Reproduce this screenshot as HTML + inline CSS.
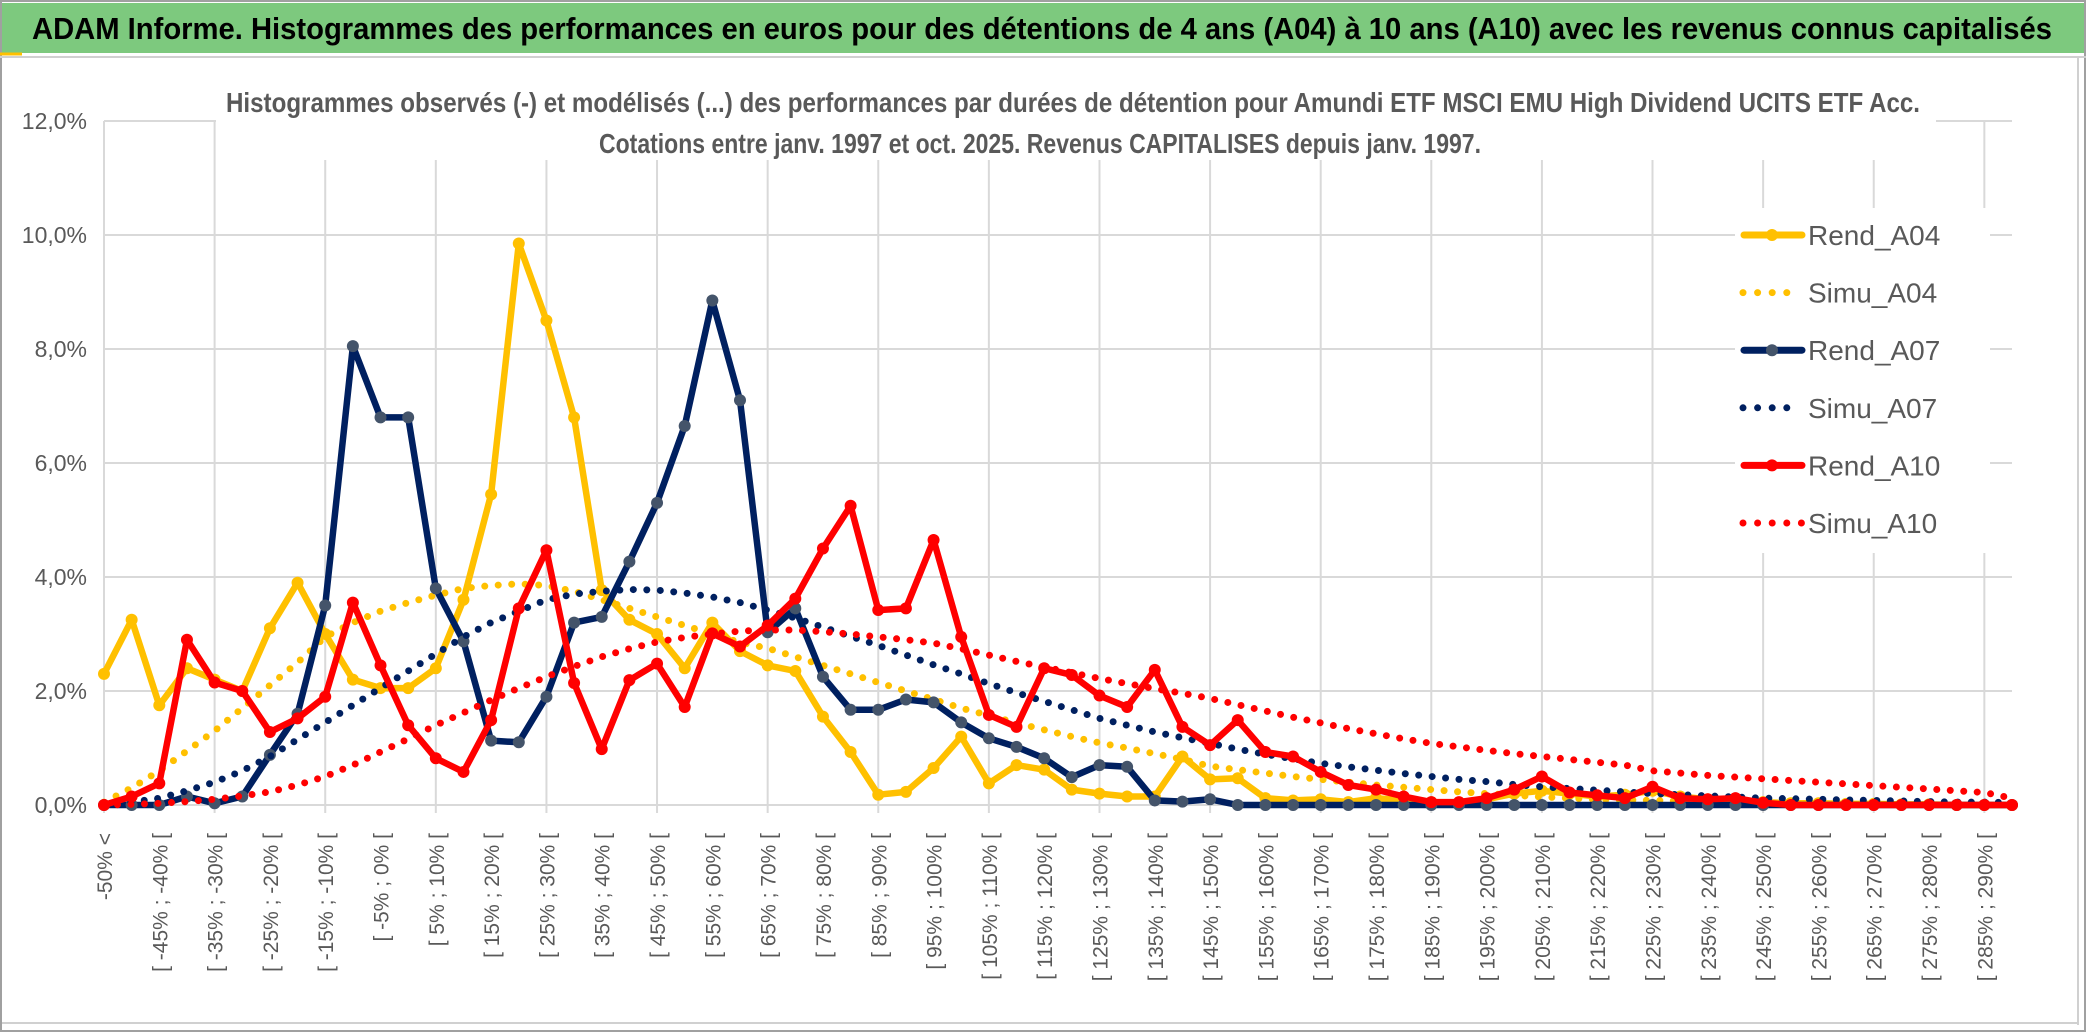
<!DOCTYPE html>
<html><head><meta charset="utf-8"><style>
html,body{margin:0;padding:0;background:#fff;}
svg{display:block;}
text{font-family:"Liberation Sans Narrow","Liberation Sans",sans-serif;}
</style></head><body>
<svg id="chart" width="2086" height="1033" viewBox="0 0 2086 1033" xmlns="http://www.w3.org/2000/svg">
<rect x="0" y="0" width="2086" height="1033" fill="#fff"/>
<rect x="1" y="1" width="2084" height="1030" fill="none" stroke="#a0a0a0" stroke-width="2"/>
<rect x="2" y="3" width="2082" height="50" fill="#7dc97e"/>
<line x1="0" y1="54" x2="22" y2="54" stroke="#ffc000" stroke-width="3"/>
<line x1="0" y1="57" x2="2086" y2="57" stroke="#d0d0d0" stroke-width="2"/>
<text x="32" y="39" font-size="31" font-weight="bold" fill="#000" textLength="2020" lengthAdjust="spacingAndGlyphs">ADAM Informe. Histogrammes des performances en euros pour des détentions de 4 ans (A04) à 10 ans (A10) avec les revenus connus capitalisés</text>
<line x1="2078" y1="58" x2="2078" y2="1025" stroke="#d0d0d0" stroke-width="2"/>
<line x1="2" y1="1023" x2="2078" y2="1023" stroke="#d0d0d0" stroke-width="2"/>
<g id="grid"></g>
<g id="yaxis"></g>
<g id="xaxis"></g>
<rect x="216" y="72" width="1720" height="88" fill="#fff"/>
<text x="1073" y="112" font-size="28" font-weight="bold" fill="#595959" text-anchor="middle" textLength="1694" lengthAdjust="spacingAndGlyphs">Histogrammes observés (-) et modélisés (...) des performances par durées de détention pour Amundi ETF MSCI EMU High Dividend UCITS ETF Acc.</text>
<text x="1040" y="153" font-size="28" font-weight="bold" fill="#595959" text-anchor="middle" textLength="882" lengthAdjust="spacingAndGlyphs">Cotations entre janv. 1997 et oct. 2025. Revenus CAPITALISES depuis janv. 1997.</text>
<g id="series"></g>
<g id="legend"></g>
</svg>
<script>
const categoryCount = 70;
const yTicks = [0, 2, 4, 6, 8, 10, 12];
const yTickLabels = ["0,0%", "2,0%", "4,0%", "6,0%", "8,0%", "10,0%", "12,0%"];
const rendA04 = [2.3,3.25,1.75,2.4,2.2,2.0,3.1,3.9,3.0,2.2,2.05,2.05,2.4,3.6,5.45,9.85,8.5,6.8,3.77,3.25,3.0,2.4,3.2,2.7,2.45,2.35,1.55,0.93,0.18,0.23,0.65,1.2,0.38,0.7,0.62,0.27,0.2,0.15,0.15,0.85,0.45,0.47,0.12,0.08,0.1,0.05,0.12,0.08,0.05,0.03,0.1,0.2,0.25,0.2,0.15,0.18,0.25,0.15,0.1,0.08,0.05,0.03,0.03,0.02,0.02,0.01,0.01,0,0,0];
const simuA04 = [0.05,0.3,0.6,0.95,1.3,1.7,2.1,2.5,2.95,3.2,3.4,3.55,3.68,3.8,3.85,3.88,3.85,3.75,3.6,3.45,3.3,3.15,3.0,2.85,2.75,2.6,2.45,2.3,2.15,2.0,1.85,1.7,1.57,1.44,1.32,1.2,1.09,1.0,0.9,0.8,0.68,0.62,0.56,0.5,0.45,0.4,0.35,0.31,0.27,0.23,0.2,0.17,0.14,0.12,0.1,0.09,0.08,0.07,0.06,0.05,0.04,0.04,0.03,0.03,0.03,0.02,0.02,0.02,0.01,0.01];
const rendA07 = [0,0,0,0.15,0.03,0.15,0.88,1.6,3.5,8.05,6.8,6.8,3.8,2.87,1.13,1.1,1.9,3.2,3.3,4.27,5.3,6.65,8.85,7.1,3.03,3.45,2.25,1.67,1.67,1.85,1.8,1.45,1.17,1.02,0.82,0.49,0.7,0.67,0.08,0.06,0.1,0,0,0,0,0,0,0,0,0,0,0,0,0,0,0,0,0,0,0,0,0,0,0,0,0,0,0,0,0];
const simuA07 = [0,0.05,0.12,0.25,0.4,0.6,0.85,1.15,1.45,1.75,2.05,2.35,2.65,2.95,3.2,3.4,3.6,3.7,3.75,3.78,3.77,3.72,3.65,3.55,3.42,3.28,3.12,2.96,2.8,2.63,2.46,2.3,2.13,1.97,1.82,1.67,1.52,1.4,1.28,1.18,1.08,0.98,0.89,0.81,0.73,0.67,0.61,0.55,0.5,0.45,0.41,0.36,0.32,0.29,0.26,0.23,0.2,0.18,0.16,0.14,0.12,0.11,0.1,0.09,0.08,0.07,0.06,0.05,0.05,0.04];
const rendA10 = [0,0.15,0.38,2.9,2.15,2.0,1.28,1.52,1.9,3.55,2.45,1.4,0.82,0.58,1.49,3.45,4.47,2.14,0.98,2.19,2.48,1.72,3.01,2.78,3.15,3.62,4.5,5.25,3.42,3.45,4.65,2.95,1.58,1.37,2.4,2.28,1.92,1.72,2.37,1.37,1.05,1.49,0.93,0.85,0.58,0.35,0.27,0.15,0.05,0.05,0.12,0.27,0.5,0.22,0.17,0.12,0.32,0.12,0.1,0.12,0.04,0,0,0,0,0,0,0,0,0];
const simuA10 = [0,0.01,0.03,0.06,0.1,0.16,0.23,0.35,0.5,0.7,0.93,1.16,1.4,1.62,1.84,2.05,2.25,2.43,2.6,2.74,2.86,2.94,3.0,3.05,3.07,3.07,3.04,3.0,2.95,2.9,2.84,2.74,2.63,2.52,2.42,2.32,2.22,2.13,2.04,1.96,1.87,1.76,1.65,1.54,1.44,1.34,1.25,1.16,1.08,1.02,0.96,0.9,0.85,0.8,0.75,0.7,0.6,0.56,0.52,0.49,0.46,0.43,0.4,0.37,0.34,0.31,0.28,0.25,0.22,0.12];

const NS = "http://www.w3.org/2000/svg";
const X0 = 104, X1 = 2012, Y0 = 805, Y12 = 121;
function xScale(i){ return X0 + (X1 - X0) * i / (categoryCount - 1); }
function yScale(v){ return Y0 - (Y0 - Y12) * v / 12; }
function mk(tag, attrs, parent){
  const el = document.createElementNS(NS, tag);
  for (const k in attrs) el.setAttribute(k, attrs[k]);
  parent.appendChild(el);
  return el;
}
function catLabel(i){
  if (i === 0) return "-50% <";
  const lo = -50 + 5 * (i - 1);
  return "[ " + lo + "% ; " + (lo + 5) + "% [";
}
const grid = document.getElementById("grid");
yTicks.forEach((t) => {
  const l = mk("line", {x1: X0, x2: X1, y1: yScale(t), y2: yScale(t), stroke: "#d9d9d9", "stroke-width": 2}, grid);
  
  
});
for (let i = 0; i < categoryCount; i += 4) {
  const l = mk("line", {x1: xScale(i), x2: xScale(i), y1: Y12, y2: Y0 + 8, stroke: "#d9d9d9", "stroke-width": 2}, grid);
  
  
}
const yax = document.getElementById("yaxis");
yTicks.forEach((t, k) => {
  const tx = mk("text", {x: 87, y: yScale(t) + 8, "font-size": 23, fill: "#595959", "text-anchor": "end"}, yax);
  tx.textContent = yTickLabels[k];
  
  
});
const xax = document.getElementById("xaxis");
for (let i = 0; i < categoryCount; i += 2) {
  const x = xScale(i) + 8;
  const tx = mk("text", {x: x, y: 833, "font-size": 21, fill: "#595959", "text-anchor": "end", transform: "rotate(-90 " + x + " 833)", style: "font-family:'Liberation Sans',sans-serif"}, xax);
  tx.textContent = catLabel(i);
  
  
}
const ser = document.getElementById("series");
function ptsOf(arr){ return arr.map((v, i) => xScale(i).toFixed(1) + "," + yScale(v).toFixed(1)).join(" "); }
function solid(arr, color, marker, name){
  const g = mk("g", {}, ser);
  
  
  mk("polyline", {points: ptsOf(arr), fill: "none", stroke: color, "stroke-width": 6.5, "stroke-linejoin": "round"}, g);
  arr.forEach((v, i) => {
    const c = mk("circle", {cx: xScale(i), cy: yScale(v), r: 6, fill: marker}, g);
    
    
  });
}
function dotted(arr, color, name){
  const p = mk("polyline", {points: ptsOf(arr), fill: "none", stroke: color, "stroke-width": 7, "stroke-linecap": "round", "stroke-dasharray": "0 13.5"}, ser);
  
  
}
solid(rendA04, "#ffc000", "#ffc000", "rend-a04-line");
dotted(simuA04, "#ffc000", "simu-a04-line");
solid(rendA07, "#002060", "#44546a", "rend-a07-line");
dotted(simuA07, "#002060", "simu-a07-line");
solid(rendA10, "#ff0000", "#ff0000", "rend-a10-line");
dotted(simuA10, "#ff0000", "simu-a10-line");

const lg = document.getElementById("legend");
mk("rect", {x: 1735, y: 208, width: 255, height: 345, fill: "#fff"}, lg);
const legendNames = ["Rend_A04","Simu_A04","Rend_A07","Simu_A07","Rend_A10","Simu_A10"];
const legendColors = ["#ffc000","#ffc000","#002060","#002060","#ff0000","#ff0000"];
const legendMarkers = ["#ffc000","","#44546a","","#ff0000",""];
legendNames.forEach((n, k) => {
  const y = 235 + k * 57.6;
  const g = mk("g", {}, lg);
  
  
  if (k % 2 === 0) {
    mk("line", {x1: 1744, x2: 1802, y1: y, y2: y, stroke: legendColors[k], "stroke-width": 7, "stroke-linecap": "round"}, g);
    mk("circle", {cx: 1772, cy: y, r: 6, fill: legendMarkers[k]}, g);
  } else {
    mk("line", {x1: 1743, x2: (k === 5 ? 1802 : 1790), y1: y, y2: y, stroke: legendColors[k], "stroke-width": 7, "stroke-linecap": "round", "stroke-dasharray": "0 14.6"}, g);
  }
  const t = mk("text", {x: 1808, y: y + 10, "font-size": 28, fill: "#595959"}, g);
  t.textContent = n;
});
</script>
</body></html>
